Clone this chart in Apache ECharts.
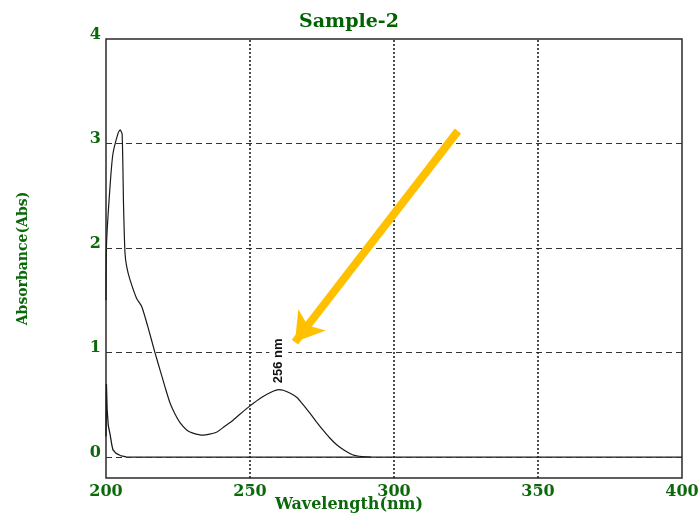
<!DOCTYPE html>
<html>
<head>
<meta charset="utf-8">
<script src="https://cdn.jsdelivr.net/npm/echarts@6/dist/echarts.min.js"></script>
<style>
  html, body {margin: 0; padding: 0; background: #fff;}
  #chart {width: 698px; height: 515px;}
</style>
</head>
<body>
<div id="chart"></div>
<script>
// sample spectrum (wavelength nm, absorbance)
const sampleCurve = [
  [200, 1.5], [200.2, 2.05], [201.4, 2.59], [202.4, 2.9], [204.2, 3.1], [204.9, 3.13],
  [205.6, 3.09], [206.1, 2.4], [206.6, 1.95], [207.2, 1.82], [208.3, 1.7], [210.6, 1.52],
  [212.4, 1.44], [214.5, 1.25], [217, 1.0], [218.8, 0.83], [220.5, 0.67], [222.2, 0.52],
  [224, 0.41], [225.7, 0.33], [228, 0.26], [230.2, 0.23], [233.7, 0.21], [236, 0.22],
  [238.5, 0.24], [241, 0.29], [244, 0.35], [246.5, 0.41], [250, 0.49], [254, 0.57],
  [258, 0.63], [260, 0.645], [261.5, 0.64], [264, 0.61], [266.3, 0.57], [268.5, 0.5],
  [270.8, 0.42], [273, 0.34], [275.3, 0.26], [277.8, 0.18], [280.2, 0.115], [283, 0.06],
  [285.8, 0.02], [289, 0.005], [292, 0]
];
// blank / baseline trace
const baseCurve = [
  [200, 0.2], [200.15, 0.7], [200.4, 0.45], [200.8, 0.3], [201.4, 0.22], [202, 0.12],
  [202.4, 0.07], [203.5, 0.035], [205, 0.015], [207, 0.003], [210, 0], [315, 0],
  [315.5, 0.01], [316, 0], [400, 0]
];
const xTicks = [200, 250, 300, 350, 400];
const yGridValues = [0, 1, 2, 3];
const xGridValues = [250, 300, 350];
const peakLabel = '256 nm';
const peakLabelAt = [260, 0.92];
const arrowFrom = [322.2, 3.12];
const arrowTo = [265.6, 1.1];

const green = '#0b680b';
const labelFont = 'DejaVu Serif';

const myChart = echarts.init(document.getElementById('chart'));

const option = {
  animation: false,
  title: {
    text: 'Sample-2',
    left: 'center',
    top: 8,
    textStyle: {
      fontFamily: labelFont,
      fontWeight: 'bold',
      fontSize: 19,
      color: '#006200'
    }
  },
  grid: {
    left: 106,
    right: 16,
    top: 39,
    bottom: 37,
    outerBoundsMode: 'none',
    show: true,
    borderColor: '#2a2a2a',
    borderWidth: 1.5
  },
  xAxis: {
    type: 'value',
    min: xTicks[0],
    max: xTicks[xTicks.length - 1],
    interval: 50,
    name: 'Wavelength(nm)',
    nameLocation: 'middle',
    nameGap: 19,
    nameMoveOverlap: false,
    nameTextStyle: {
      fontFamily: labelFont,
      fontWeight: 'bold',
      fontSize: 16,
      color: green,
      padding: [0, 90, 0, 0]
    },
    axisLine: {show: false},
    axisTick: {show: false},
    splitLine: {show: false},
    axisLabel: {
      margin: 6,
      fontFamily: labelFont,
      fontWeight: 'bold',
      fontSize: 16,
      color: green
    }
  },
  yAxis: {
    type: 'value',
    min: -0.2,
    max: 4,
    interval: 0.2,
    name: 'Absorbance(Abs)',
    nameLocation: 'middle',
    nameGap: 76,
    nameMoveOverlap: false,
    nameTextStyle: {
      fontFamily: labelFont,
      fontWeight: 'bold',
      fontSize: 14,
      color: green
    },
    axisLine: {show: false},
    axisTick: {show: false},
    splitLine: {show: false},
    axisLabel: {
      margin: 5,
      fontFamily: labelFont,
      fontWeight: 'bold',
      fontSize: 16,
      color: green,
      verticalAlign: 'bottom',
      lineHeight: 9,
      formatter: function (v) {
        const r = Math.round(v);
        return Math.abs(v - r) < 1e-6 && r >= 0 ? String(r) : '';
      }
    }
  },
  series: [
    {
      name: 'grid',
      type: 'line',
      data: [],
      silent: true,
      markLine: {
        silent: true,
        symbol: 'none',
        label: {show: false},
        animation: false,
        data: yGridValues.map(v => ({
          yAxis: v,
          lineStyle: {type: [6, 4], color: '#333', width: 1.2}
        })).concat(xGridValues.map(v => ({
          xAxis: v,
          lineStyle: {type: [2, 2], color: '#222', width: 1.6}
        })))
      }
    },
    {
      name: 'blank',
      type: 'line',
      data: baseCurve,
      showSymbol: false,
      smooth: false,
      lineStyle: {color: '#1a1a1a', width: 1.3},
      z: 3
    },
    {
      name: 'sample',
      type: 'line',
      data: sampleCurve,
      showSymbol: false,
      smooth: 0.2,
      lineStyle: {color: '#1a1a1a', width: 1.2},
      z: 4,
      markPoint: {
        symbol: 'rect',
        symbolSize: 1,
        itemStyle: {color: 'rgba(0,0,0,0)'},
        data: [{coord: peakLabelAt, value: peakLabel}],
        label: {
          show: true,
          position: 'inside',
          rotate: 90,
          formatter: peakLabel,
          fontFamily: 'Liberation Sans Narrow, Liberation Sans, sans-serif',
          fontWeight: 'bold',
          fontSize: 13,
          color: '#111',
          backgroundColor: '#fff',
          padding: [3, 3]
        }
      },
      markLine: {
        silent: true,
        symbol: ['none', 'arrow'],
        symbolSize: [26, 28],
        label: {show: false},
        lineStyle: {color: '#FFC000', width: 8, type: 'solid'},
        itemStyle: {color: '#FFC000'},
        data: [[{coord: arrowFrom}, {coord: arrowTo}]]
      }
    }
  ]
};

myChart.setOption(option);
</script>
</body>
</html>
